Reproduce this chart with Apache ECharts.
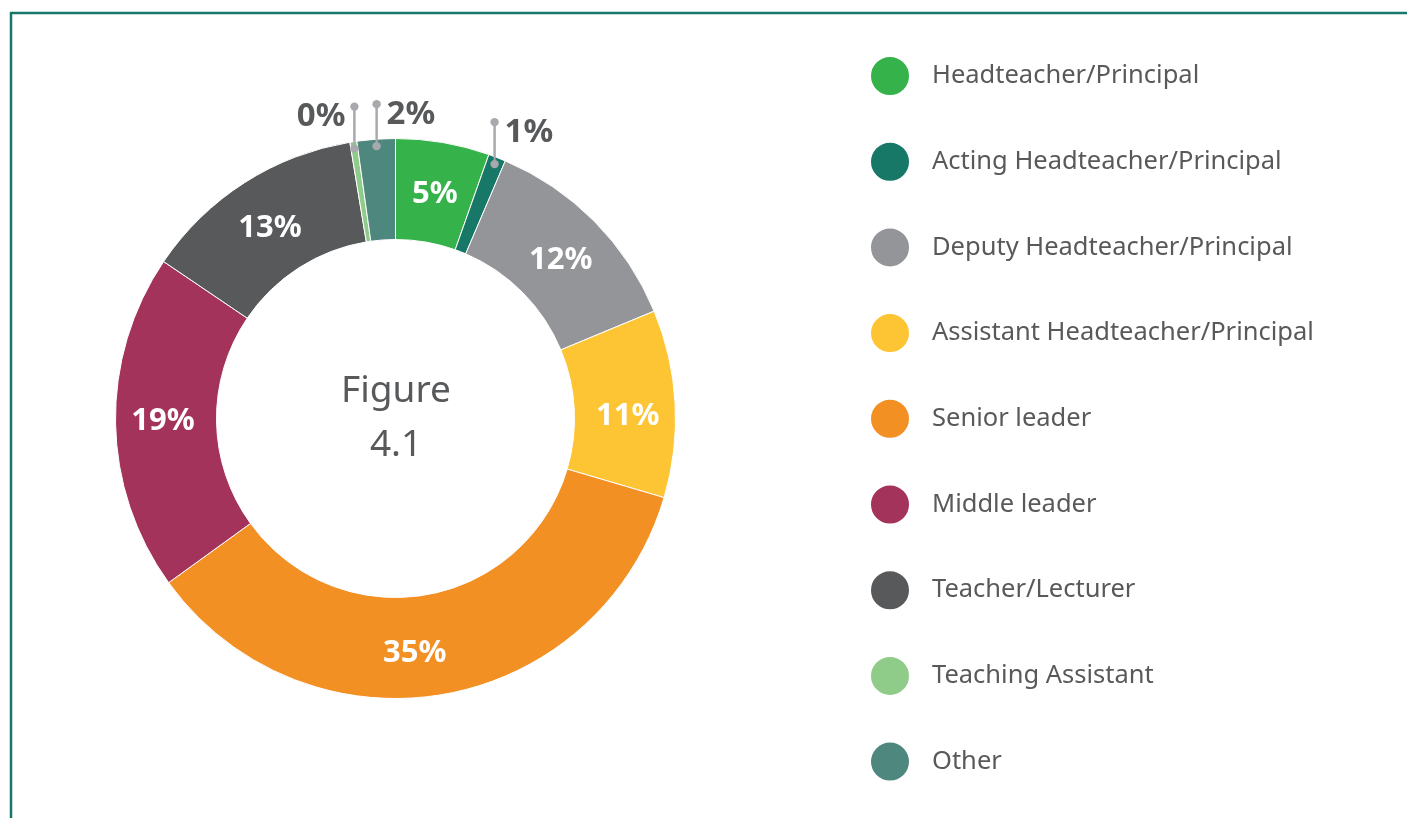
<!DOCTYPE html>
<html>
<head>
<meta charset="utf-8">
<script src="https://cdn.jsdelivr.net/npm/echarts@6/dist/echarts.min.js"></script>
<style>
  html, body { margin: 0; padding: 0; background: #fff; }
  #figure-4-1 { width: 1407px; height: 818px; }
</style>
</head>
<body>
<div id="figure-4-1"></div>
<script>
// roles of respondents (share of total, %)
var categories = [
  'Headteacher/Principal',
  'Acting Headteacher/Principal',
  'Deputy Headteacher/Principal',
  'Assistant Headteacher/Principal',
  'Senior leader',
  'Middle leader',
  'Teacher/Lecturer',
  'Teaching Assistant',
  'Other'
]
var values = [5.4, 1.0, 12.3, 10.8, 35.4, 19.4, 12.9, 0.4, 2.2]
var colors = ['#35b34a', '#177868', '#939598', '#fdc533', '#f29024', '#a3335a', '#58595b', '#8fcc8a', '#4e877d']
// small slices get a label outside, on this side of the leader line
var outsideSide = {
  'Acting Headteacher/Principal': 'right',
  'Teaching Assistant': 'left',
  'Other': 'right'
}
// hand nudges of a few inside labels, as in the original
var labelNudge = {
  'Assistant Headteacher/Principal': [0, 10],
  'Senior leader': [-20, 6],
  'Middle leader': [0, -1]
}

var FONT = '"Noto Sans", sans-serif'
var GREY = '#58595b'
var LINE_GREY = '#a7a9ac'

var chartDom = document.getElementById('figure-4-1')
var myChart = echarts.init(chartDom, null, { renderer: 'canvas' })
var leaders = []

function buildGraphic() {
  var els = [
    { id: 'frameTop', type: 'line', shape: { x1: 10, y1: 13, x2: 1407, y2: 13 }, style: { stroke: '#17776a', lineWidth: 2.5 } },
    { id: 'frameLeft', type: 'line', shape: { x1: 11, y1: 12, x2: 11, y2: 818 }, style: { stroke: '#17776a', lineWidth: 2.5 } },
    {
      id: 'centerText', type: 'text', x: 396, y: 418,
      style: { text: 'Figure\n4.1', fill: GREY, font: '37px ' + FONT, align: 'center', verticalAlign: 'middle', lineHeight: 54 }
    }
  ]
  leaders.forEach(function (pts, i) {
    if (!pts) return
    els.push({ id: 'lead' + i, type: 'polyline', z: 10, shape: { points: pts }, style: { stroke: LINE_GREY, lineWidth: 2 } })
    pts.forEach(function (p, j) {
      els.push({ id: 'dot' + i + '_' + j, type: 'circle', z: 11, shape: { cx: p[0], cy: p[1], r: 4.2 }, style: { fill: LINE_GREY } })
    })
  })
  return els
}

function layoutSmallLabel(params) {
  var side = outsideSide[categories[params.dataIndex]]
  if (!side || !params.labelLinePoints) return
  var p0 = params.labelLinePoints[0]
  var p1 = params.labelLinePoints[1]
  var dx = p1[0] - p0[0], dy = p1[1] - p0[1]
  var len = Math.sqrt(dx * dx + dy * dy) || 1
  // start a bit inside the slice, then go straight up
  var sx = p0[0] - dx / len * 7
  var sy = p0[1] - dy / len * 7
  var ty = sy - 42
  leaders[params.dataIndex] = [[sx, sy], [sx, ty]]
  return {
    x: side === 'right' ? sx + 10 : sx - 9,
    y: ty + 10,
    align: side === 'right' ? 'left' : 'right',
    verticalAlign: 'middle',
    labelLinePoints: [[sx, sy], [sx, ty]]
  }
}

var seriesData = categories.map(function (name, i) {
  var item = { name: name, value: values[i] }
  if (outsideSide[name]) {
    item.label = { position: 'outside', color: GREY, fontSize: 33, offset: [0, 0] }
    item.labelLine = { show: true }
  }
  if (labelNudge[name]) {
    item.label = { offset: labelNudge[name] }
  }
  return item
})

var option = {
  backgroundColor: '#fff',
  color: colors,
  animation: false,
  legend: {
    orient: 'vertical',
    left: 864,
    top: 50,
    icon: 'circle',
    itemWidth: 40,
    itemHeight: 40,
    itemGap: 43.7,
    data: categories,
    textStyle: {
      fontFamily: FONT,
      fontSize: 25.5,
      color: GREY,
      padding: [0, 0, 0, 17]
    }
  },
  graphic: buildGraphic(),
  series: [
    {
      type: 'pie',
      center: [395.5, 418.5],
      radius: [179, 280],
      startAngle: 90,
      avoidLabelOverlap: false,
      itemStyle: { borderColor: '#fff', borderWidth: 1 },
      label: {
        show: true,
        position: 'inside',
        color: '#fff',
        fontFamily: FONT,
        fontSize: 31,
        fontWeight: 'bold',
        offset: [0, 5],
        formatter: function (p) { return Math.round(p.value) + '%' }
      },
      labelLine: {
        show: false,
        length: 20,
        length2: 0,
        lineStyle: { color: LINE_GREY, width: 2 }
      },
      labelLayout: layoutSmallLabel,
      emphasis: { disabled: true },
      data: seriesData
    }
  ]
}

option && myChart.setOption(option)
// leader lines and their end dots, taken from the label layout above
myChart.setOption({ graphic: buildGraphic() })
</script>
</body>
</html>
